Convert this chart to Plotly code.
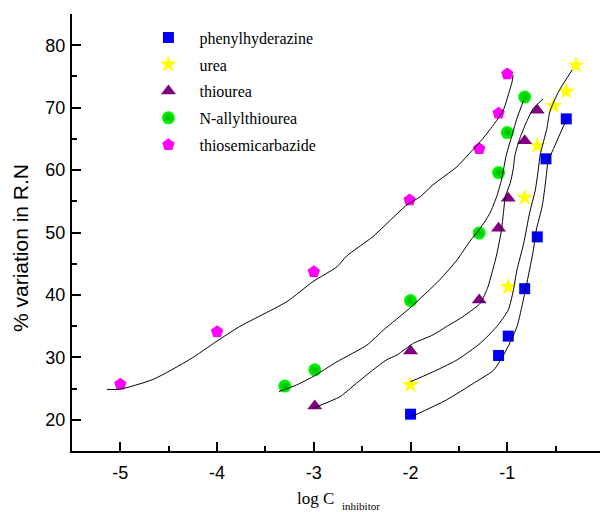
import plotly.graph_objects as go

# ---- measured data (log C, % variation in R.N) ----
names = ["phenylhyderazine", "urea", "thiourea", "N-allylthiourea", "thiosemicarbazide"]

phenyl_x = [-2.0, -1.09, -0.99, -0.82, -0.69, -0.60, -0.39]
phenyl_y = [20.9, 30.3, 33.4, 41.0, 49.3, 61.8, 68.2]

urea_x = [-2.0, -0.99, -0.82, -0.69, -0.52, -0.39, -0.29]
urea_y = [25.6, 41.3, 55.6, 63.9, 70.3, 72.6, 76.8]

thiourea_x = [-2.99, -2.0, -1.29, -1.09, -0.99, -0.82, -0.69]
thiourea_y = [22.2, 31.0, 39.2, 50.7, 55.5, 64.7, 69.6]

allyl_x = [-3.30, -2.99, -2.0, -1.29, -1.09, -1.0, -0.82]
allyl_y = [25.4, 28.0, 39.1, 49.9, 59.6, 66.0, 71.7]

semi_x = [-5.0, -4.0, -3.0, -2.01, -1.29, -1.09, -1.0]
semi_y = [25.7, 34.1, 43.7, 55.2, 63.4, 69.1, 75.4]

# ---- fitted curves ----
phenyl_fit_x = [-1.99, -1.63, -1.35, -1.14, -1.01, -0.90, -0.83, -0.77, -0.73, -0.70, -0.64, -0.61, -0.59, -0.58, -0.52, -0.46, -0.39]
phenyl_fit_y = [20.49, 23.17, 25.84, 27.97, 31.18, 34.91, 39.51, 43.99, 47.20, 50.40, 54.13, 57.34, 60.01, 61.34, 63.49, 65.62, 68.02]

urea_fit_x = [-2.00, -1.80, -1.52, -1.28, -1.11, -0.99, -0.94, -0.90, -0.83, -0.77, -0.71, -0.68, -0.66, -0.59, -0.56, -0.47, -0.33]
urea_fit_y = [26.10, 27.45, 29.58, 32.25, 34.91, 37.59, 40.52, 43.99, 48.27, 53.07, 56.81, 60.01, 62.41, 66.69, 69.35, 72.55, 76.03]

thiourea_fit_x = [-3.01, -2.73, -2.56, -2.39, -2.25, -2.14, -1.97, -1.77, -1.63, -1.46, -1.28, -1.20, -1.16, -1.11, -1.06, -1.04, -1.02, -0.97, -0.94, -0.92, -0.87, -0.80, -0.73, -0.63]
thiourea_fit_y = [21.84, 23.70, 25.84, 27.97, 29.58, 30.38, 32.25, 33.58, 34.91, 36.51, 38.66, 41.27, 43.46, 46.40, 50.40, 53.07, 55.73, 57.88, 60.01, 62.41, 65.09, 67.75, 69.89, 71.38]

allyl_fit_x = [-3.36, -3.18, -3.01, -2.76, -2.45, -2.28, -2.01, -1.70, -1.52, -1.39, -1.28, -1.18, -1.11, -1.06, -1.01, -0.95, -0.90, -0.83]
allyl_fit_y = [24.53, 25.57, 26.90, 29.30, 31.98, 34.38, 37.86, 42.39, 45.59, 48.53, 50.67, 53.07, 55.73, 58.41, 62.41, 65.62, 68.29, 71.22]

semi_fit_x = [-5.14, -5.01, -4.66, -4.28, -4.01, -3.77, -3.28, -3.01, -2.76, -2.66, -2.39, -2.04, -1.90, -1.77, -1.52, -1.39, -1.25, -1.13, -1.04, -0.99, -0.95, -0.94]
semi_fit_y = [24.88, 24.88, 26.48, 29.69, 32.51, 34.91, 38.91, 42.12, 44.52, 46.24, 49.33, 54.40, 55.73, 57.61, 60.54, 62.69, 65.09, 67.49, 69.62, 72.02, 74.15, 75.23]

x_ticks = [-5, -4, -3, -2, -1, 0]
x_tick_labels = ["-5", "-4", "-3", "-2", "-1", "0"]
y_ticks = [20, 30, 40, 50, 60, 70, 80]
y_tick_labels = ["20", "30", "40", "50", "60", "70", "80"]

series = [
    (phenyl_x, phenyl_y, dict(symbol="square", size=11, color="#0000FF")),
    (urea_x, urea_y, dict(symbol="star", size=13, color="#FFFF00")),
    (thiourea_x, thiourea_y, dict(symbol="triangle-up", size=13, color="#800080")),
    (allyl_x, allyl_y, dict(symbol="circle", size=13, color="#00FF00",
                            gradient=dict(type="radial", color="#00B000"))),
    (semi_x, semi_y, dict(symbol="pentagon", size=13, color="#FF00FF")),
]
fits = [
    (phenyl_fit_x, phenyl_fit_y),
    (urea_fit_x, urea_fit_y),
    (thiourea_fit_x, thiourea_fit_y),
    (allyl_fit_x, allyl_fit_y),
    (semi_fit_x, semi_fit_y),
]

fig = go.Figure()
for i, (name, (sx, sy, mk)) in enumerate(zip(names, series)):
    fig.add_trace(go.Scatter(x=sx, y=sy, mode="markers", name=name,
                             legendgroup=f"g{i}",
                             marker=dict(line=dict(width=0), **mk)))
for fx, fy in fits:
    fig.add_trace(go.Scatter(x=fx, y=fy, mode="lines", showlegend=False,
                             line=dict(color="black", width=1, shape="spline", smoothing=0.6),
                             hoverinfo="skip"))

axis_font = dict(family="Arial, Liberation Sans, sans-serif", size=18, color="black")
serif = "Times New Roman, Liberation Serif, serif"

# page body adds an 8px offset, so the figure is 600x504 drawn from (8,8)
fig.update_layout(
    width=600, height=504,
    margin=dict(l=64, r=4, t=6, b=61),
    paper_bgcolor="white", plot_bgcolor="white",
    showlegend=True,
    legend=dict(x=0.123, y=0.985, xanchor="left", yanchor="top",
                bgcolor="rgba(0,0,0,0)", borderwidth=0,
                font=dict(family=serif, size=16, color="black"),
                tracegroupgap=3, traceorder="grouped", itemwidth=52),
    xaxis=dict(range=[-5.5, 0], tickmode="array", tickvals=x_ticks, ticktext=x_tick_labels,
               showgrid=False, zeroline=False, showline=True, linecolor="black", linewidth=2,
               ticks="inside", ticklen=9, tickwidth=2, tickcolor="black", tickfont=axis_font,
               minor=dict(dtick=0.5, ticks="inside", ticklen=5, tickwidth=2, tickcolor="black"),
               ticklabelstandoff=4),
    yaxis=dict(range=[15, 85], tickmode="array", tickvals=y_ticks, ticktext=y_tick_labels,
               showgrid=False, zeroline=False, showline=True, linecolor="black", linewidth=2,
               ticks="inside", ticklen=9, tickwidth=2, tickcolor="black", tickfont=axis_font,
               minor=dict(dtick=5, tick0=0, ticks="inside", ticklen=5, tickwidth=2, tickcolor="black"),
               ticklabelstandoff=1),
    annotations=[
        dict(text="% variation in R.N", xref="paper", yref="paper", x=-0.0977, y=0.4645,
             xanchor="center", yanchor="middle", textangle=-90, showarrow=False,
             font=dict(family="Arial, Liberation Sans, sans-serif", size=21, color="black")),
        dict(text="log C", xref="paper", yref="paper", x=0.4568, y=-0.1098,
             xanchor="center", yanchor="middle", showarrow=False,
             font=dict(family=serif, size=17, color="black")),
        dict(text="inhibitor", xref="paper", yref="paper", x=0.5423, y=-0.125,
             xanchor="center", yanchor="middle", showarrow=False,
             font=dict(family=serif, size=11, color="black")),
    ],
)

fig.write_html("out.html")
